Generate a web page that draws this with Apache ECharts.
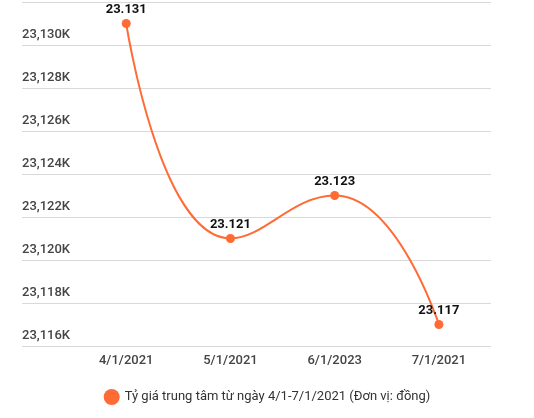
<!DOCTYPE html>
<html>
<head>
<meta charset="utf-8">
<script src="https://cdn.jsdelivr.net/npm/echarts@6/dist/echarts.min.js"></script>
<style>
html, body { margin: 0; padding: 0; background: #fff; }
#main { width: 534px; height: 418px; }
</style>
</head>
<body>
<div id="main"></div>
<script type="text/javascript">
	// du lieu
	var categories = [ '4/1/2021', '5/1/2021', '6/1/2023', '7/1/2021' ];
	var rates = [ 23131, 23121, 23123, 23117 ];
	var rateLabels = [ '23.131', '23.121', '23.123', '23.117' ];
	var seriesName = 'Tỷ giá trung tâm từ ngày 4/1-7/1/2021 (Đơn vị: đồng)';

	var points = [];
	for (var i = 0; i < rates.length; i++) {
		points.push([ i, rates[i] ]);
	}

	var myChart = echarts.init(document.getElementById('main'));
	var option = {
		animation : false,
		textStyle : {
			fontFamily : 'Roboto'
		},
		color : [ '#FF6B35' ],
		legend : {
			data : [ seriesName ],
			bottom : 8,
			left : 'center',
			icon : 'circle',
			itemWidth : 16,
			itemHeight : 16,
			textStyle : {
				fontSize : 13,
				color : '#333'
			}
		},
		grid : {
			left : 22,
			right : 43,
			top : 2,
			bottom : 72,
			containLabel : false,
			outerBoundsMode : 'none'
		},
		xAxis : {
			type : 'value',
			min : -1,
			max : 3.5,
			interval : 1,
			splitLine : { show : false },
			axisLine : { show : false },
			axisTick : { show : false },
			axisLabel : {
				showMaxLabel : false,
				fontSize : 13,
				fontWeight : 500,
				color : '#444',
				margin : 8,
				formatter : function(v) {
					return categories[v] || '';
				}
			}
		},
		yAxis : {
			type : 'value',
			min : 23116,
			max : 23132,
			interval : 2,
			axisLine : { show : false },
			axisTick : { show : false },
			splitLine : {
				lineStyle : { color : '#d9d9d9' }
			},
			axisLabel : {
				inside : true,
				margin : 0,
				verticalAlign : 'bottom',
				padding : [ 0, 0, 4, 0 ],
				fontSize : 13,
				fontWeight : 500,
				color : '#444',
				formatter : function(v) {
					return echarts.format.addCommas(v) + 'K';
				}
			}
		},
		series : [ {
			name : seriesName,
			type : 'line',
			smooth : 0.5,
			symbol : 'circle',
			symbolSize : 9,
			lineStyle : { width : 2 },
			data : points,
			label : {
				show : true,
				position : 'top',
				distance : 3,
				fontSize : 13,
				fontWeight : 'bold',
				color : '#111',
				formatter : function(p) {
					return rateLabels[p.dataIndex];
				}
			}
		} ]
	};
	myChart.setOption(option);
</script>
</body>
</html>
